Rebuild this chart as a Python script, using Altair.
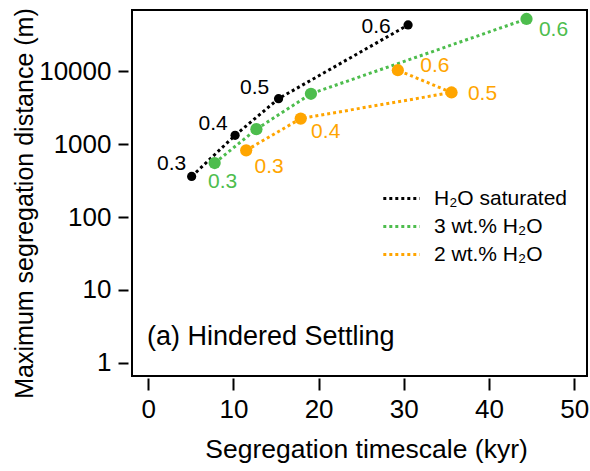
import altair as alt
import pandas as pd

phi = [0.3, 0.4, 0.5, 0.6]
series_names = ["H₂O saturated", "3 wt.% H₂O", "2 wt.% H₂O"]
sat_time = [5.1, 10.2, 15.3, 30.5]
sat_dist = [360, 1320, 4200, 43000]
wt3_time = [7.8, 12.7, 19.1, 44.4]
wt3_dist = [550, 1600, 4900, 52000]
wt2_time = [11.5, 17.9, 35.6, 29.3]
wt2_dist = [820, 2240, 5100, 10300]
x_ticks = [0, 10, 20, 30, 40, 50]
y_ticks = [1, 10, 100, 1000, 10000]
colors = ["#000000", "#4dbd4d", "#ffa500"]

rows = []
for name, ts, ds in zip(series_names, [sat_time, wt3_time, wt2_time], [sat_dist, wt3_dist, wt2_dist]):
    for p, t, d in zip(phi, ts, ds):
        rows.append({"series": name, "phi": p, "time": t, "dist": d, "lab": f"{p:.1f}"})
df = pd.DataFrame(rows)

# label placement (series index, phi, dx, dy)
label_place = [
    (0, 0.3, -20, -12), (0, 0.4, -22, -11), (0, 0.5, -24, -11), (0, 0.6, -32, 2),
    (1, 0.3, 8, 19), (1, 0.6, 27, 11),
    (2, 0.3, 23, 17), (2, 0.4, 25, 13), (2, 0.5, 31, 2), (2, 0.6, 37, -4),
]

FONT = "Liberation Sans"
xs = alt.X("time:Q", scale=alt.Scale(domain=[-1.9, 51.5], nice=False, zero=False),
           axis=alt.Axis(values=x_ticks, title="Segregation timescale (kyr)", offset=2,
                         tickSize=12, labelPadding=6, labelFontSize=26, titleFontSize=26.5,
                         titleX=234, titleY=79, titleBaseline="alphabetic"))
ys = alt.Y("dist:Q", scale=alt.Scale(type="log", domain=[0.66, 69000], nice=False),
           axis=alt.Axis(values=y_ticks, format="d", title="Maximum segregation distance (m)",
                         offset=4, tickSize=10, labelPadding=7, labelFontSize=26, titleFontSize=25,
                         titleX=-96, titleY=193, titleAngle=-90, titleBaseline="alphabetic",
                         titleAlign="center"))
cscale = alt.Scale(domain=series_names, range=colors)

base = alt.Chart(df)
lines = base.mark_line(strokeDash=[3, 3], strokeWidth=3).encode(
    x=xs, y=ys,
    color=alt.Color("series:N", scale=cscale, sort=series_names,
                    legend=alt.Legend(title=None, orient="none", legendX=255, legendY=174,
                                      symbolType="M-1.4,0H1.4", symbolDash=[3, 3], symbolStrokeWidth=3,
                                      symbolSize=676, labelFontSize=21, labelFont=FONT,
                                      labelOffset=18, rowPadding=3, padding=0, labelColor="black")),
    order=alt.Order("phi:Q"),
    detail="series:N",
)
pts_big = base.transform_filter(alt.datum.series != series_names[0]).mark_point(
    filled=True, size=150, opacity=1).encode(
    x="time:Q", y="dist:Q",
    color=alt.Color("series:N", scale=cscale, legend=None))
pts_small = base.transform_filter(alt.datum.series == series_names[0]).mark_point(
    filled=True, size=85, opacity=1).encode(
    x="time:Q", y="dist:Q",
    color=alt.Color("series:N", scale=cscale, legend=None))

layers = [lines, pts_big, pts_small]
for si, p, dx, dy in label_place:
    layers.append(
        base.transform_filter((alt.datum.series == series_names[si]) & (alt.datum.phi == p))
        .mark_text(font=FONT, fontSize=21, dx=dx, dy=dy, align="center", baseline="middle")
        .encode(x="time:Q", y="dist:Q", text="lab:N",
                color=alt.Color("series:N", scale=cscale, legend=None))
    )

annot = alt.Chart(pd.DataFrame({"t": ["(a) Hindered Settling"]})).mark_text(
    font=FONT, fontSize=27, align="left", baseline="middle", color="black").encode(
    x=alt.value(15), y=alt.value(327), text="t:N")
layers.append(annot)

chart = alt.layer(*layers).properties(
    width=455, height=366,
    autosize=alt.AutoSizeParams(type="none"),
    padding={"left": 132, "top": 10, "right": 3, "bottom": 95},
).configure(background="white").configure_view(stroke="black", strokeWidth=2).configure_axis(
    grid=False, domain=False, tickColor="black", tickWidth=2, labelColor="black",
    titleColor="black", labelFont=FONT, titleFont=FONT, titleFontWeight="normal",
)

chart.save("out.html", embed_options={"renderer": "svg", "actions": False})
